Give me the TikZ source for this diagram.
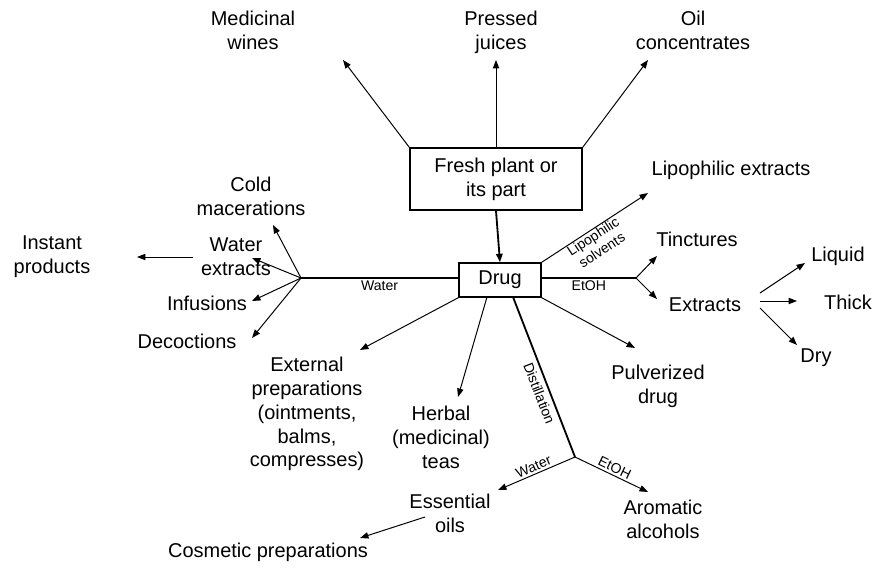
\documentclass[tikz,border=0pt]{standalone}
\usepackage{fontspec}
\setmainfont{Liberation Sans}
\usetikzlibrary{arrows.meta}
\tikzset{
   txt/.style={align=center,inner sep=1pt,font=\fontsize{14.2}{17}\selectfont},
   lab/.style={inner sep=1.5pt,font=\fontsize{10}{11.5}\selectfont},
   frame/.style={draw,line width=1pt,align=center,inner sep=1pt,font=\fontsize{14.2}{17}\selectfont},
   arr/.style={-{Triangle[length=6pt,width=4.5pt]},line width=0.7pt},
   heavy/.style={line width=1.3pt},
}
\begin{document}
\begin{tikzpicture}[x=0.025cm,y=-0.025cm]
   \useasboundingbox (0,0) rectangle (875,569);

   \node[frame,minimum width=4.3cm,minimum height=1.55cm] (fresh) at (496,179) {Fresh plant or\\its part};
   \node[frame,minimum width=2.05cm,minimum height=0.85cm] (drug) at (500,280) {Drug};
   \draw[arr,heavy] (fresh.south) -- (drug.north);

   %%%%%%%%%% from the fresh plant
   \node[txt] (wine) at (253,30) {Medicinal\\wines};
   \node[txt] (juice) at (501,32) {Pressed\\juices};
   \node[txt] (oil) at (693,30) {Oil\\concentrates};
   \coordinate (wineT) at (343,60);
   \coordinate (juiceT) at (496,60);
   \coordinate (oilT) at (648,60);
   \draw[arr] (fresh.north west) -- (wineT);
   \draw[arr] (fresh.north) -- (juiceT);
   \draw[arr] (fresh.north east) -- (oilT);

   %%%%%%%%%% lipophilic solvents and ethanol
   \node[txt] (lipo) at (731,170) {Lipophilic extracts};
   \coordinate (lipoT) at (648,193);
   \draw[arr] (drug.north east) -- node[lab,sloped,below,align=center,inner sep=0.5pt,pos=.45] {Lipophilic\\solvents} (lipoT);

   \node[txt] (tinct) at (697,239) {Tinctures};
   \node[txt] (extr) at (705,305) {Extracts};
   \coordinate (etoh) at (636,278);
   \coordinate (tinctT) at (657,256);
   \coordinate (extrT) at (657,299);
   \draw[heavy] (drug.east |- etoh) -- node[lab,below] {EtOH} (etoh);
   \draw[arr] (etoh) -- (tinctT);
   \draw[arr] (etoh) -- (extrT);

   \node[txt] (liquid) at (838,256) {Liquid};
   \node[txt] (thick) at (848,302) {Thick};
   \node[txt] (dry) at (816,358) {Dry};
   \coordinate (ex1) at (760,293);
   \coordinate (ex2) at (760,301);
   \coordinate (ex3) at (760,308);
   \draw[arr] (ex1) -- (805,263);
   \draw[arr] (ex2) -- (797,301);
   \draw[arr] (ex3) -- (797,345);

   %%%%%%%%%% water
   \node[txt] (cold) at (251,196) {Cold\\macerations};
   \node[txt] (waterx) at (236,257) {Water\\extracts};
   \node[txt] (infus) at (207,303) {Infusions};
   \node[txt] (decoc) at (187,341) {Decoctions};
   \node[txt] (instant) at (52,257) {Instant\\products};
   \coordinate (water) at (301,278);
   \draw[heavy] (drug.west |- water) -- node[lab,below] {Water} (water);
   \draw[arr] (water) -- (273,225);
   \draw[arr] (water) -- (252,258);
   \draw[arr] (water) -- (252,301);
   \draw[arr] (water) -- (252,338);
   \coordinate (instS) at (193,257);
   \coordinate (instT) at (137,257);
   \draw[arr] (instS) -- (instT);

   %%%%%%%%%% below the drug
   \node[txt] (extprep) at (307,414) {External\\preparations\\(ointments,\\balms,\\compresses)};
   \node[txt] (herbal) at (441,437) {Herbal\\(medicinal)\\teas};
   \node[txt] (pulv) at (658,386) {Pulverized\\drug};
   \coordinate (extT) at (360,350);
   \coordinate (herbS) at (487,297);
   \coordinate (herbT) at (458,397);
   \coordinate (pulvT) at (635,348);
   \draw[arr] (drug.south west) -- (extT);
   \draw[arr] (herbS) -- (herbT);
   \draw[arr] (drug.south east) -- (pulvT);

   %%%%%%%%%% distillation
   \node[txt] (essoil) at (450,513) {Essential\\oils};
   \node[txt] (aroma) at (663,519) {Aromatic\\alcohols};
   \node[txt] (cosm) at (268,552) {Cosmetic preparations};
   \coordinate (distS) at (513,297);
   \coordinate (dist) at (575,457);
   \coordinate (essT) at (498,490);
   \coordinate (aromT) at (648,492);
   \draw[heavy] (distS) -- node[lab,sloped,below,pos=.58,inner sep=3pt] {Distillation} (dist);
   \draw[arr] (dist) -- node[lab,sloped,above] {Water} (essT);
   \draw[arr] (dist) -- node[lab,sloped,above] {EtOH} (aromT);
   \coordinate (cosmS) at (425,517);
   \coordinate (cosmT) at (360,538);
   \draw[arr] (cosmS) -- (cosmT);
\end{tikzpicture}
\end{document}
